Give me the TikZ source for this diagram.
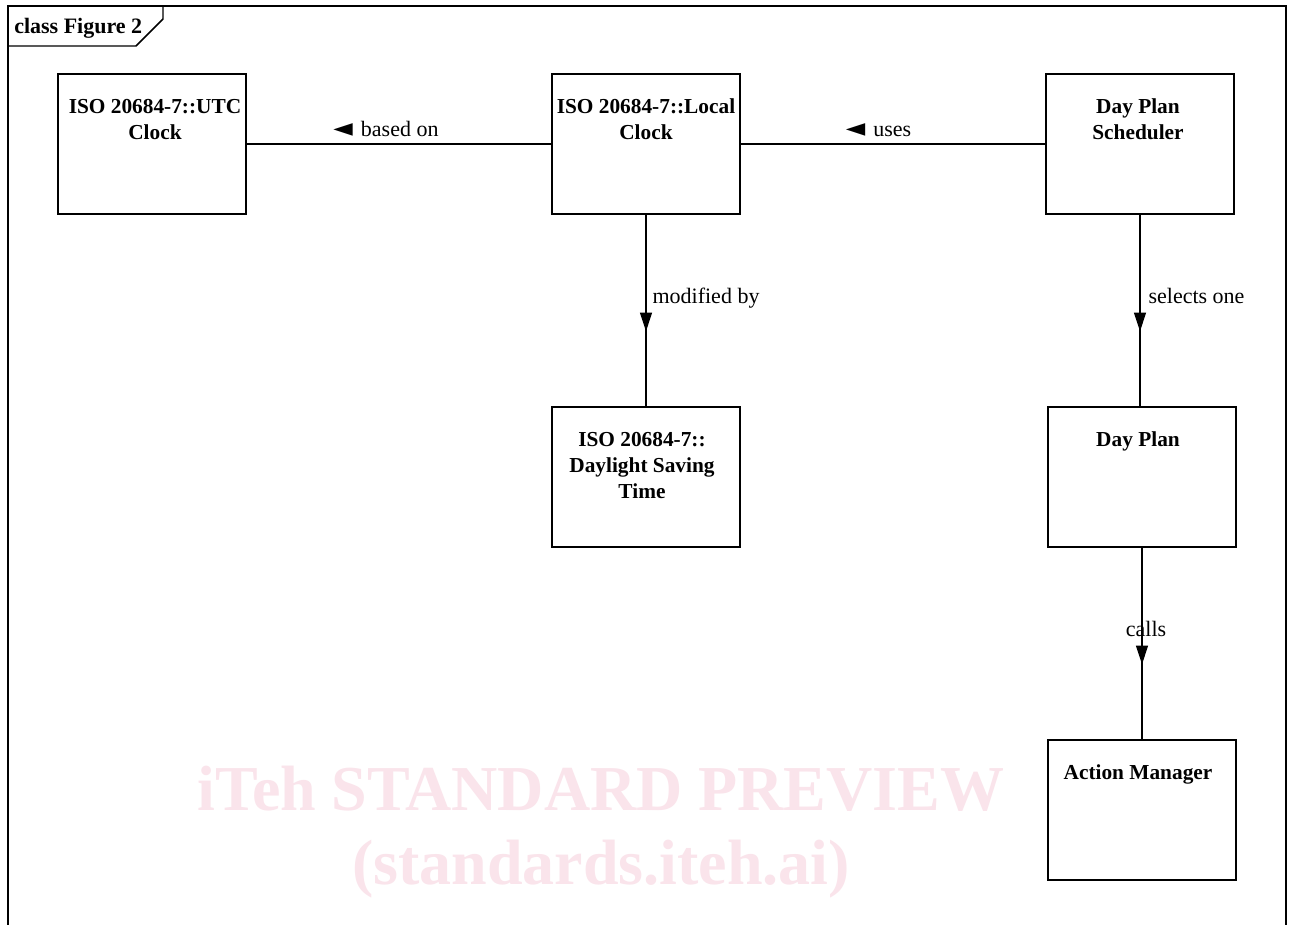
\documentclass[tikz,border=0pt]{standalone}
\usepackage{fontspec}
\setmainfont{Liberation Serif}
\newfontfamily\symfont{DejaVu Sans}
\newcommand\lefttri{{\symfont\fontsize{19}{19}\selectfont ◄}}
\usetikzlibrary{arrows.meta,decorations.markings}
\definecolor{wm}{RGB}{250,228,235}
\begin{document}
\begin{tikzpicture}[x=0.75pt,y=-0.75pt,
 cls/.style={draw, line width=1.8pt, minimum width=141pt, minimum height=105pt, inner sep=0pt, outer sep=0pt},
 clstext/.style={font=\fontsize{16}{19.5}\selectfont\bfseries, align=center, anchor=base, inner sep=0pt},
 conn/.style={line width=0.85pt},
 midarrow/.style={postaction={decorate}, decoration={markings, mark=at position 88pt with {\arrow{Triangle[width=9pt,length=14pt]}}}},
 lbl/.style={font=\fontsize{16.5}{20}\selectfont, inner sep=0pt},
 wmk/.style={font=\fontsize{48}{48}\selectfont\bfseries, text=wm, inner sep=0pt, anchor=base},
]
\useasboundingbox (0,0) rectangle (1290,925);
\fill[white] (0,0) rectangle (1290,925);
% watermark
\node[wmk] (wm1) at (601,810) {iTeh STANDARD PREVIEW};
\node[wmk] (wm2) at (601,884) {(standards.iteh.ai)};
% frame
\draw[line width=1.1pt] (8,925) -- (8,6) -- (1286,6) -- (1286,925);
\draw[line width=1.1pt] (8,46) -- (136,46) -- (163,19) -- (163,6);
\node[font=\fontsize{16.5}{20}\selectfont\bfseries, anchor=base west, inner sep=0pt] (ttl) at (14,33) {class Figure 2};
% classes
\node[cls] (utc) at (152,144) {};
\node[cls] (loc) at (646,144) {};
\node[cls] (dps) at (1140,144) {};
\node[cls] (dst) at (646,477) {};
\node[cls] (dp) at (1142,477) {};
\node[cls] (am) at (1142,810) {};
% (anchor base = baseline of the last line)
\node[clstext] (utct) at (155,139) {ISO 20684-7::UTC\\Clock};
\node[clstext] (loct) at (646,139) {ISO 20684-7::Local\\Clock};
\node[clstext] (dpst) at (1138,139) {Day Plan\\Scheduler};
\node[clstext] (dstt) at (642,498) {ISO 20684-7::\\Daylight Saving\\Time};
\node[clstext] (dpt) at (1138,446) {Day Plan};
\node[clstext] (amt) at (1138,779) {Action Manager};
% connectors
\draw[conn] (utc.east) -- node[lbl, anchor=base, pos=0.5, xshift=-9.75pt, yshift=6pt] (l1) {\lefttri\hspace{6pt}based on} (loc.west);
\draw[conn] (loc.east) -- node[lbl, anchor=base, pos=0.5, xshift=-10.9pt, yshift=6pt] (l2) {\lefttri\hspace{6pt}uses} (dps.west);
\draw[conn, midarrow] (loc.south) -- node[lbl, anchor=base west, pos=0.5, xshift=4.5pt, yshift=5.6pt] (l3) {modified by} (dst.north);
\draw[conn, midarrow] (dps.south) -- node[lbl, anchor=base west, pos=0.5, xshift=6pt, yshift=5.6pt] (l4) {selects one} (dps.south |- dp.north);
\draw[conn, midarrow] (dp.south) -- node[lbl, anchor=base, pos=0.5, xshift=3pt, yshift=5.6pt] (l5) {calls} (am.north);
\end{tikzpicture}
\end{document}
